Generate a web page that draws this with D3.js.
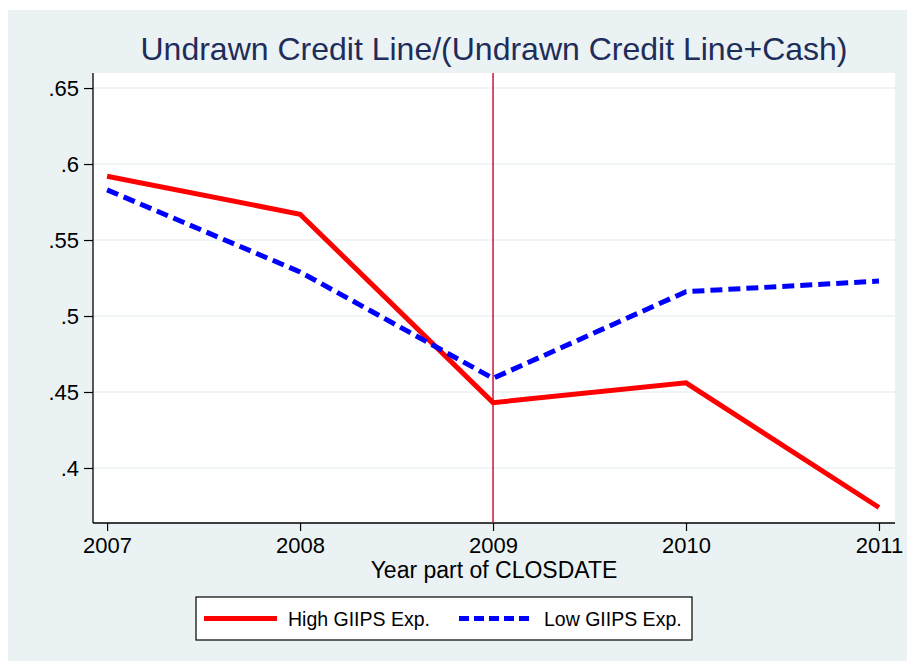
<!DOCTYPE html>
<html>
<head>
<meta charset="utf-8">
<script src="https://cdn.jsdelivr.net/npm/d3@7"></script>
<style>
  body { margin: 0; background: #fff; }
  svg { display: block; font-family: "Liberation Sans", Arial, sans-serif; }
</style>
</head>
<body>
<div id="chart"></div>
<script>
// chart data
var years = [2007, 2008, 2009, 2010, 2011];
var highGiips = [0.592, 0.567, 0.443, 0.456, 0.374];
var lowGiips = [0.583, 0.529, 0.459, 0.516, 0.523];
var yTicks = [0.4, 0.45, 0.5, 0.55, 0.6, 0.65];
var yTickLabels = [".4", ".45", ".5", ".55", ".6", ".65"];
var markYear = 2009;
var seriesNames = ["High GIIPS Exp.", "Low GIIPS Exp."];

var W = 907, H = 662;
var plot = { left: 93, top: 73, right: 895, bottom: 523 };
var bg = "#eaf2f3";

var svg = d3.select("#chart").append("svg")
  .attr("width", W)
  .attr("height", H);

// outer background
svg.append("rect")
  .attr("x", 8).attr("y", 10)
  .attr("width", W - 8).attr("height", 651)
  .attr("fill", bg);

// plot region
svg.append("rect")
  .attr("x", plot.left).attr("y", plot.top)
  .attr("width", plot.right - plot.left).attr("height", plot.bottom - plot.top)
  .attr("fill", "#fff");

var x = d3.scaleLinear()
  .domain([2006.927, 2011.083])
  .range([plot.left, plot.right]);
var y = d3.scaleLinear()
  .domain([0.3638, 0.6599])
  .range([plot.bottom, plot.top]);

// grid lines
svg.append("g").selectAll("line")
  .data(yTicks)
  .enter().append("line")
  .attr("x1", plot.left).attr("x2", plot.right)
  .attr("y1", function(d) { return y(d); })
  .attr("y2", function(d) { return y(d); })
  .attr("stroke", bg)
  .attr("stroke-width", 1.6);

// axes
var yAxis = d3.axisLeft(y)
  .tickValues(yTicks)
  .tickFormat(function(d, i) { return yTickLabels[i]; })
  .tickSize(9)
  .tickPadding(5);
var gy = svg.append("g")
  .attr("transform", "translate(" + plot.left + ",0)")
  .call(yAxis);

var xAxis = d3.axisBottom(x)
  .tickValues(years)
  .tickFormat(d3.format("d"))
  .tickSize(8)
  .tickPadding(6);
var gx = svg.append("g")
  .attr("transform", "translate(0," + plot.bottom + ")")
  .call(xAxis);

[gx, gy].forEach(function(g) {
  g.select(".domain").attr("stroke", "#000").attr("stroke-width", 1.3)
    .attr("d", g === gx
      ? "M" + plot.left + ",0H" + plot.right
      : "M0," + plot.top + "V" + plot.bottom);
  g.selectAll(".tick line").attr("stroke", "#000").attr("stroke-width", 1.2);
  g.selectAll(".tick text")
    .attr("fill", "#000")
    .style("font-size", "22px")
    .style("font-family", "'Liberation Sans', Arial, sans-serif");
});
gy.selectAll(".tick text").attr("dy", "0.36em");

// vertical reference line
svg.append("line")
  .attr("x1", x(markYear)).attr("x2", x(markYear))
  .attr("y1", plot.top).attr("y2", plot.bottom)
  .attr("stroke", "#c8153f")
  .attr("stroke-width", 1.5);

var line = d3.line()
  .x(function(d, i) { return x(years[i]); })
  .y(function(d) { return y(d); });

svg.append("path")
  .datum(highGiips)
  .attr("d", line)
  .attr("fill", "none")
  .attr("stroke", "#ff0000")
  .attr("stroke-width", 5);

svg.append("path")
  .datum(lowGiips)
  .attr("d", line)
  .attr("fill", "none")
  .attr("stroke", "#0000ff")
  .attr("stroke-width", 5)
  .attr("stroke-dasharray", "12,6");

// title
svg.append("text")
  .attr("x", (plot.left + plot.right) / 2)
  .attr("y", 60)
  .attr("text-anchor", "middle")
  .attr("fill", "#1e2d5a")
  .style("font-size", "32px")
  .text("Undrawn Credit Line/(Undrawn Credit Line+Cash)");

// x axis title
svg.append("text")
  .attr("x", (plot.left + plot.right) / 2)
  .attr("y", 578)
  .attr("text-anchor", "middle")
  .attr("fill", "#000")
  .style("font-size", "23px")
  .text("Year part of CLOSDATE");

// legend
var leg = svg.append("g");
leg.append("rect")
  .attr("x", 196).attr("y", 597)
  .attr("width", 496).attr("height", 43)
  .attr("fill", "#fff")
  .attr("stroke", "#000")
  .attr("stroke-width", 1.2);

var legItems = [
  { name: seriesNames[0], color: "#ff0000", dash: null, x0: 204, tx: 288 },
  { name: seriesNames[1], color: "#0000ff", dash: "10,5", x0: 459, tx: 544 }
];
legItems.forEach(function(it) {
  leg.append("line")
    .attr("x1", it.x0).attr("x2", it.x0 + 73)
    .attr("y1", 618.5).attr("y2", 618.5)
    .attr("stroke", it.color)
    .attr("stroke-width", 5)
    .attr("stroke-dasharray", it.dash);
  leg.append("text")
    .attr("x", it.tx).attr("y", 626)
    .attr("fill", "#000")
    .style("font-size", "19.5px")
    .text(it.name);
});
</script>
</body>
</html>
